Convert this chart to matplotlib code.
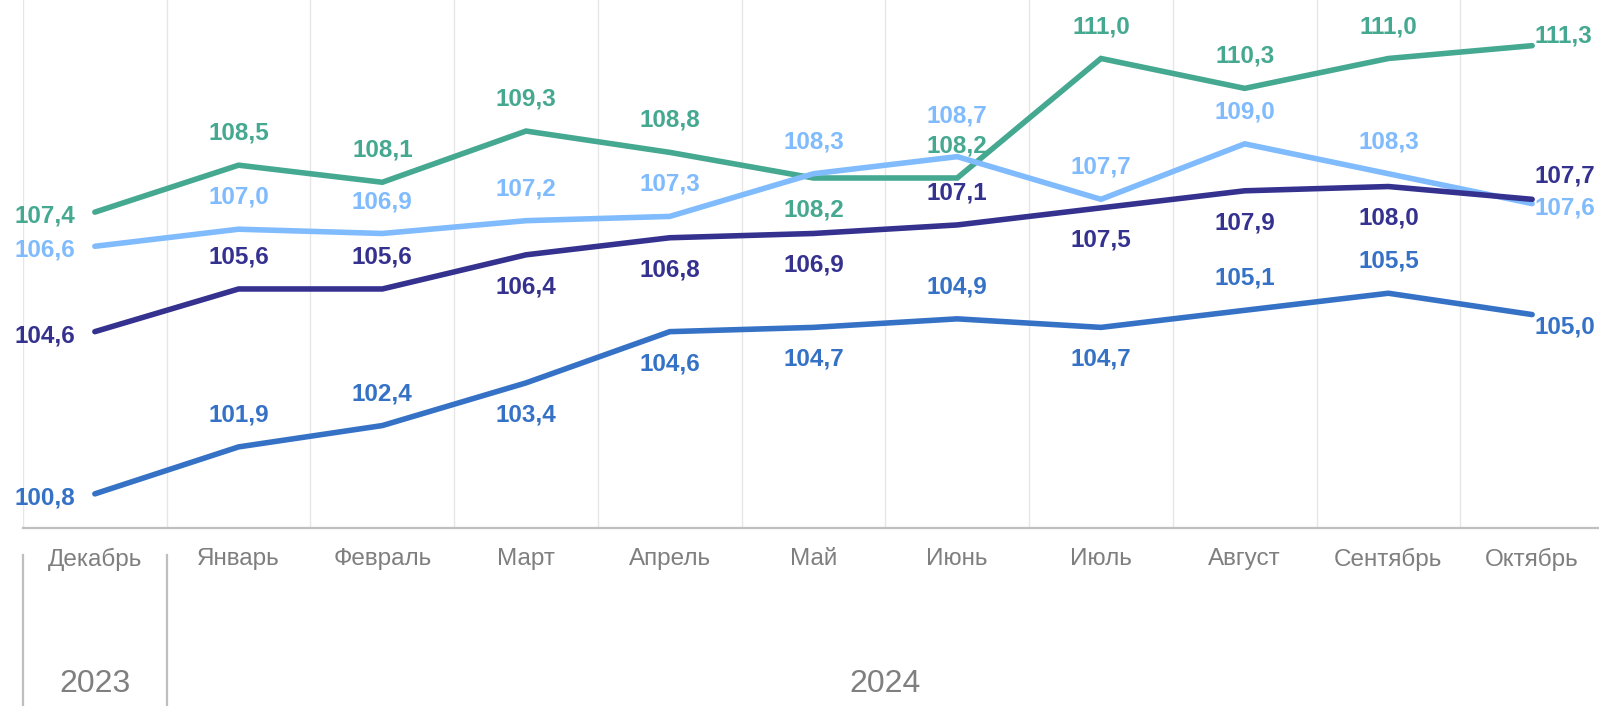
import matplotlib
matplotlib.use("Agg")
import matplotlib.pyplot as plt
import matplotlib.transforms as mtransforms

months = ["Декабрь", "Январь", "Февраль", "Март", "Апрель", "Май", "Июнь",
          "Июль", "Август", "Сентябрь", "Октябрь"]
years = ["2023", "2024"]
year_span = [(0, 0), (1, 10)]

green = [107.4, 108.5, 108.1, 109.3, 108.8, 108.2, 108.2, 111.0, 110.3, 111.0, 111.3]
light = [106.6, 107.0, 106.9, 107.2, 107.3, 108.3, 108.7, 107.7, 109.0, 108.3, 107.6]
purple = [104.6, 105.6, 105.6, 106.4, 106.8, 106.9, 107.1, 107.5, 107.9, 108.0, 107.7]
blue = [100.8, 101.9, 102.4, 103.4, 104.6, 104.7, 104.9, 104.7, 105.1, 105.5, 105.0]

# label placement codes: a=above, A=higher above, b=below, l=left, r=right, R=above-right
green_pos = ["l", "a", "a", "a", "a", "b", "a", "a", "a", "a", "r"]
light_pos = ["l", "a", "a", "a", "a", "a", "A", "a", "a", "a", "r"]
purple_pos = ["l", "a", "a", "b", "b", "b", "a", "b", "b", "b", "R"]
blue_pos = ["l", "a", "a", "b", "b", "b", "a", "b", "a", "a", "r"]

series = [
    (green, green_pos, "#45a890", 7),
    (light, light_pos, "#7fbbfd", -3),
    (purple, purple_pos, "#35318f", 0),
    (blue, blue_pos, "#3572c6", -9),
]

plt.rcParams["font.family"] = ["Liberation Sans", "DejaVu Sans"]

fig = plt.figure(figsize=(15.99, 7.06), dpi=100)
W, H = 1599, 706
left, right, top, bottom = 23, 1604, 0, 528
ax = fig.add_axes([left / W, (H - bottom) / H, (right - left) / W, (bottom - top) / H])

x = list(range(len(months)))
ax.set_xlim(-0.5, len(months) - 0.5)
ax.set_ylim(100, 112.37)

for b in range(len(months)):
    ax.axvline(b - 0.5, color="#e6e6e6", lw=1.0, zorder=0)

for vals, pos, col, rdy in series:
    ax.plot(x, vals, color=col, lw=4.0, solid_capstyle="round",
            solid_joinstyle="miter", zorder=3)
    for i, (v, p) in enumerate(zip(vals, pos)):
        txt = f"{v:.1f}".replace(".", ",")
        ha = "center"
        if p == "a":
            off = (0, 23)
        elif p == "A":
            off = (0, 29)
        elif p == "b":
            off = (0, -23)
        elif p == "l":
            off, ha = (-14, -3), "right"
        elif p == "r":
            off, ha = (2, rdy), "left"
        else:  # above-right
            off, ha = (2, 17), "left"
        ax.annotate(txt, (i, v), xytext=off, textcoords="offset points",
                    ha=ha, va="center", color=col, fontsize=17.5, fontweight="bold",
                    zorder=4, annotation_clip=False)

for s in ["top", "right", "left"]:
    ax.spines[s].set_visible(False)
ax.spines["bottom"].set_color("#bfbfbf")
ax.spines["bottom"].set_linewidth(1.6)
ax.set_yticks([])
ax.set_xticks(x)
ax.set_xticklabels(months, color="#7f7f7f", fontsize=17.5)
ax.tick_params(axis="x", length=0, pad=14.5)

trans = mtransforms.blended_transform_factory(ax.transData, ax.transAxes)
y_top_sep = (bottom - 555) / (bottom - top)
y_bot_sep = (bottom - H) / (bottom - top)
for xs in [-0.5, 0.5]:
    ax.plot([xs, xs], [y_top_sep, y_bot_sep], transform=trans, color="#bfbfbf",
            lw=1.6, clip_on=False)
y_year = (bottom - 684) / (bottom - top)
for yl, (a, b) in zip(years, year_span):
    ax.text((a + b) / 2, y_year, yl, transform=trans, ha="center", va="center",
            color="#7f7f7f", fontsize=23)

fig.savefig("out.png", dpi=100)
